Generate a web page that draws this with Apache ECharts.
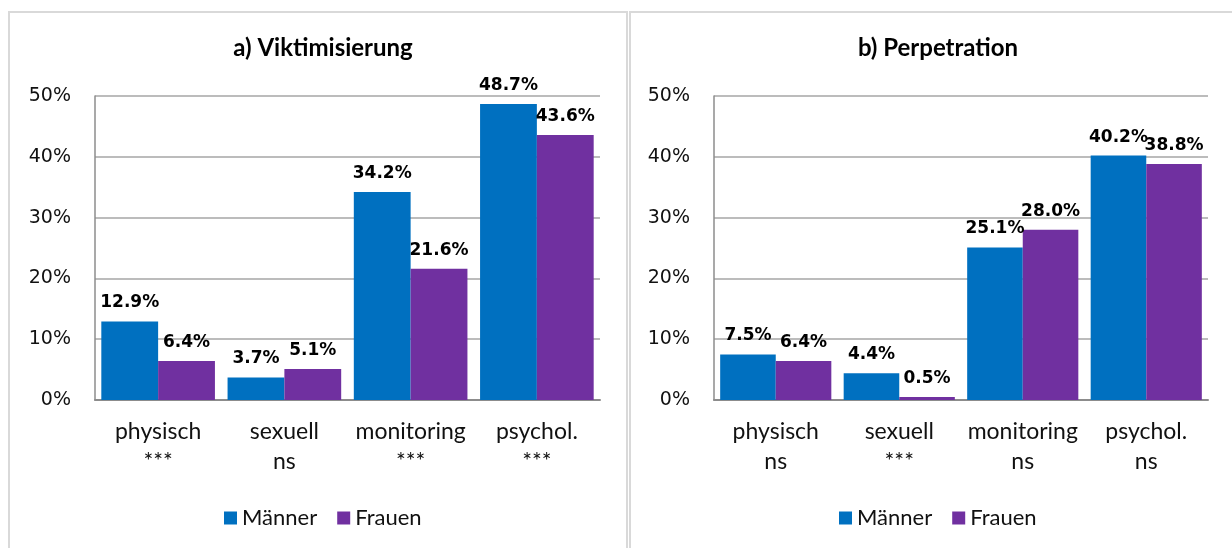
<!DOCTYPE html>
<html>
<head>
<meta charset="utf-8">
<script src="https://cdn.jsdelivr.net/npm/echarts@6/dist/echarts.min.js"></script>
<style>
  html, body { margin: 0; padding: 0; background: #fff; }
  #chart { width: 1232px; height: 548px; }
</style>
</head>
<body>
<div id="chart"></div>
<script>
// Categories with significance markers (second line)
const categoriesA = ['physisch\n***', 'sexuell\nns', 'monitoring\n***', 'psychol.\n***'];
const categoriesB = ['physisch\nns', 'sexuell\n***', 'monitoring\nns', 'psychol.\nns'];

// Shares in percent
const victimMen   = [12.9, 3.7, 34.2, 48.7];
const victimWomen = [6.4, 5.1, 21.6, 43.6];
const perpMen     = [7.5, 4.4, 25.1, 40.2];
const perpWomen   = [6.4, 0.5, 28.0, 38.8];

const seriesNames = ['Männer', 'Frauen'];
const panelTitles = ['a) Viktimisierung', 'b) Perpetration'];

const BLUE = '#0070C0';
const PURPLE = '#7030A0';
const TEXT_FONT = 'Lato';
const NUM_FONT = 'DejaVu Sans';

function yAxis(gridIndex) {
  return {
    type: 'value', gridIndex, min: 0, max: 50, interval: 10,
    axisLine: { show: true, lineStyle: { color: '#8c8c8c', width: 1.5 } },
    axisTick: { show: false },
    axisLabel: { formatter: '{value}%', fontFamily: NUM_FONT, fontSize: 19, color: '#111', margin: 24 },
    splitLine: { lineStyle: { color: '#a6a6a6', width: 1.5 } }
  };
}
function xAxis(gridIndex, cats) {
  return {
    type: 'category', gridIndex, data: cats,
    axisLine: { lineStyle: { color: '#8c8c8c', width: 2 } },
    axisTick: { show: false },
    axisLabel: { fontFamily: TEXT_FONT, fontSize: 23, color: '#111', lineHeight: 30, margin: 17, interval: 0 }
  };
}
function bar(name, data, color, idx) {
  return {
    name, type: 'bar', data, xAxisIndex: idx, yAxisIndex: idx,
    barGap: 0, barCategoryGap: '10%',
    itemStyle: { color },
    label: {
      show: true, position: 'top', distance: 10,
      formatter: p => p.value.toFixed(1) + '%',
      fontFamily: NUM_FONT, fontWeight: 'bold', fontSize: 17, color: '#000'
    }
  };
}
const legendStyle = {
  itemWidth: 13, itemHeight: 13, itemGap: 20, icon: 'rect',
  textStyle: { fontFamily: TEXT_FONT, fontSize: 22, color: '#111' }
};

const chart = echarts.init(document.getElementById('chart'), null, { renderer: 'canvas' });
chart.setOption({
  animation: false,
  graphic: [
    { type: 'rect', shape: { x: 9, y: 12, width: 618, height: 600 }, style: { fill: 'none', stroke: '#d9d9d9', lineWidth: 2 } },
    { type: 'rect', shape: { x: 630, y: 12, width: 620, height: 600 }, style: { fill: 'none', stroke: '#d9d9d9', lineWidth: 2 } }
  ],
  title: [
    { text: panelTitles[0], left: 318, top: 31, textAlign: 'center',
      textStyle: { fontFamily: TEXT_FONT, fontSize: 24, fontWeight: 'bold', color: '#000' } },
    { text: panelTitles[1], left: 933, top: 31, textAlign: 'center',
      textStyle: { fontFamily: TEXT_FONT, fontSize: 24, fontWeight: 'bold', color: '#000' } }
  ],
  legend: [
    Object.assign({ data: seriesNames, left: 219, top: 502 }, legendStyle),
    Object.assign({ data: seriesNames, left: 834, top: 502 }, legendStyle)
  ],
  grid: [
    { left: 95, top: 96, width: 505, height: 304 },
    { left: 714, top: 96, width: 494, height: 304 }
  ],
  xAxis: [xAxis(0, categoriesA), xAxis(1, categoriesB)],
  yAxis: [yAxis(0), yAxis(1)],
  series: [
    bar(seriesNames[0], victimMen, BLUE, 0),
    bar(seriesNames[1], victimWomen, PURPLE, 0),
    bar(seriesNames[0], perpMen, BLUE, 1),
    bar(seriesNames[1], perpWomen, PURPLE, 1)
  ]
});
</script>
</body>
</html>
